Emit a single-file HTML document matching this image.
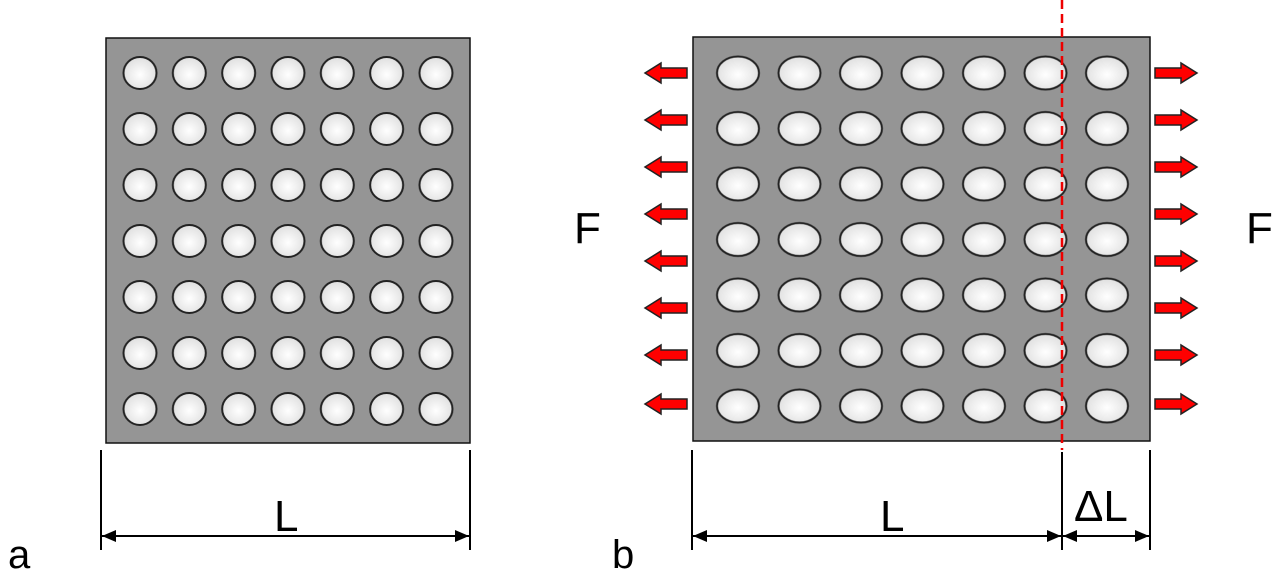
<!DOCTYPE html>
<html><head><style>html,body{margin:0;padding:0;background:#fff}svg{display:block}</style></head>
<body>
<svg width="1280" height="573" viewBox="0 0 1280 573" xmlns="http://www.w3.org/2000/svg" font-family="Liberation Sans, sans-serif">
<defs>
<radialGradient id="g" cx="0.5" cy="0.55" r="0.6"><stop offset="0" stop-color="#ffffff"/><stop offset="1" stop-color="#dcdcdc"/></radialGradient>
<pattern id="pa" patternUnits="userSpaceOnUse" x="115.35" y="45" width="49.33" height="56">
<ellipse cx="24.65" cy="28" rx="16.5" ry="16" fill="url(#g)" stroke="#222" stroke-width="2"/></pattern>
<pattern id="pb" patternUnits="userSpaceOnUse" x="707.25" y="45.25" width="61.5" height="55.5">
<ellipse cx="30.75" cy="27.75" rx="21" ry="16.5" fill="url(#g)" stroke="#222" stroke-width="2"/></pattern>
<marker id="ah" markerWidth="14" markerHeight="12" refX="14" refY="6" orient="auto-start-reverse" markerUnits="userSpaceOnUse"><path d="M0,0 L14,6 L0,12 Z" fill="#000"/></marker>
<path id="ra" d="M0,-5 L26,-5 L26,-10 L42,0 L26,10 L26,5 L0,5 Z" fill="#f00" stroke="#222" stroke-width="1.5"/>
<path id="la" d="M0,-5 L-26,-5 L-26,-10 L-42,0 L-26,10 L-26,5 L0,5 Z" fill="#f00" stroke="#222" stroke-width="1.5"/>
</defs>
<!-- a -->
<rect x="106" y="38" width="364" height="405" fill="#959595" stroke="#111" stroke-width="1.5"/>
<rect x="115.35" y="45" width="345.3" height="392" fill="url(#pa)"/>
<line x1="101" y1="450" x2="101" y2="550" stroke="#000" stroke-width="2"/>
<line x1="470" y1="450" x2="470" y2="550" stroke="#000" stroke-width="2"/>
<line x1="102" y1="536" x2="469" y2="536" stroke="#000" stroke-width="2" marker-end="url(#ah)" marker-start="url(#ah)"/>
<text x="274" y="531" font-size="44">L</text>
<text x="8" y="568" font-size="40">a</text>
<!-- b -->
<rect x="693" y="37" width="457" height="404" fill="#959595" stroke="#111" stroke-width="1.5"/>
<rect x="707.25" y="45.25" width="430.5" height="388.5" fill="url(#pb)"/>
<line x1="1062" y1="0" x2="1062" y2="450" stroke="#e00" stroke-width="2.5" stroke-dasharray="9,5"/>
<line x1="692" y1="450" x2="692" y2="550" stroke="#000" stroke-width="2"/>
<line x1="1062" y1="452" x2="1062" y2="550" stroke="#000" stroke-width="2"/>
<line x1="1150" y1="450" x2="1150" y2="550" stroke="#000" stroke-width="2"/>
<line x1="693" y1="536" x2="1061" y2="536" stroke="#000" stroke-width="2" marker-end="url(#ah)" marker-start="url(#ah)"/>
<line x1="1063" y1="536" x2="1149" y2="536" stroke="#000" stroke-width="2" marker-end="url(#ah)" marker-start="url(#ah)"/>
<text x="880" y="531" font-size="44">L</text>
<text x="1074" y="521" font-size="44">ΔL</text>
<text x="612" y="568" font-size="40">b</text>
<text x="574" y="243" font-size="44">F</text>
<text x="1246" y="243" font-size="44">F</text>
<g>
<use href="#la" x="687" y="73"/><use href="#la" x="687" y="120"/><use href="#la" x="687" y="167"/><use href="#la" x="687" y="214"/>
<use href="#la" x="687" y="261"/><use href="#la" x="687" y="308"/><use href="#la" x="687" y="355"/><use href="#la" x="687" y="404"/>
<use href="#ra" x="1155" y="73"/><use href="#ra" x="1155" y="120"/><use href="#ra" x="1155" y="167"/><use href="#ra" x="1155" y="214"/>
<use href="#ra" x="1155" y="261"/><use href="#ra" x="1155" y="308"/><use href="#ra" x="1155" y="355"/><use href="#ra" x="1155" y="404"/>
</g>
</svg>
</body></html>
